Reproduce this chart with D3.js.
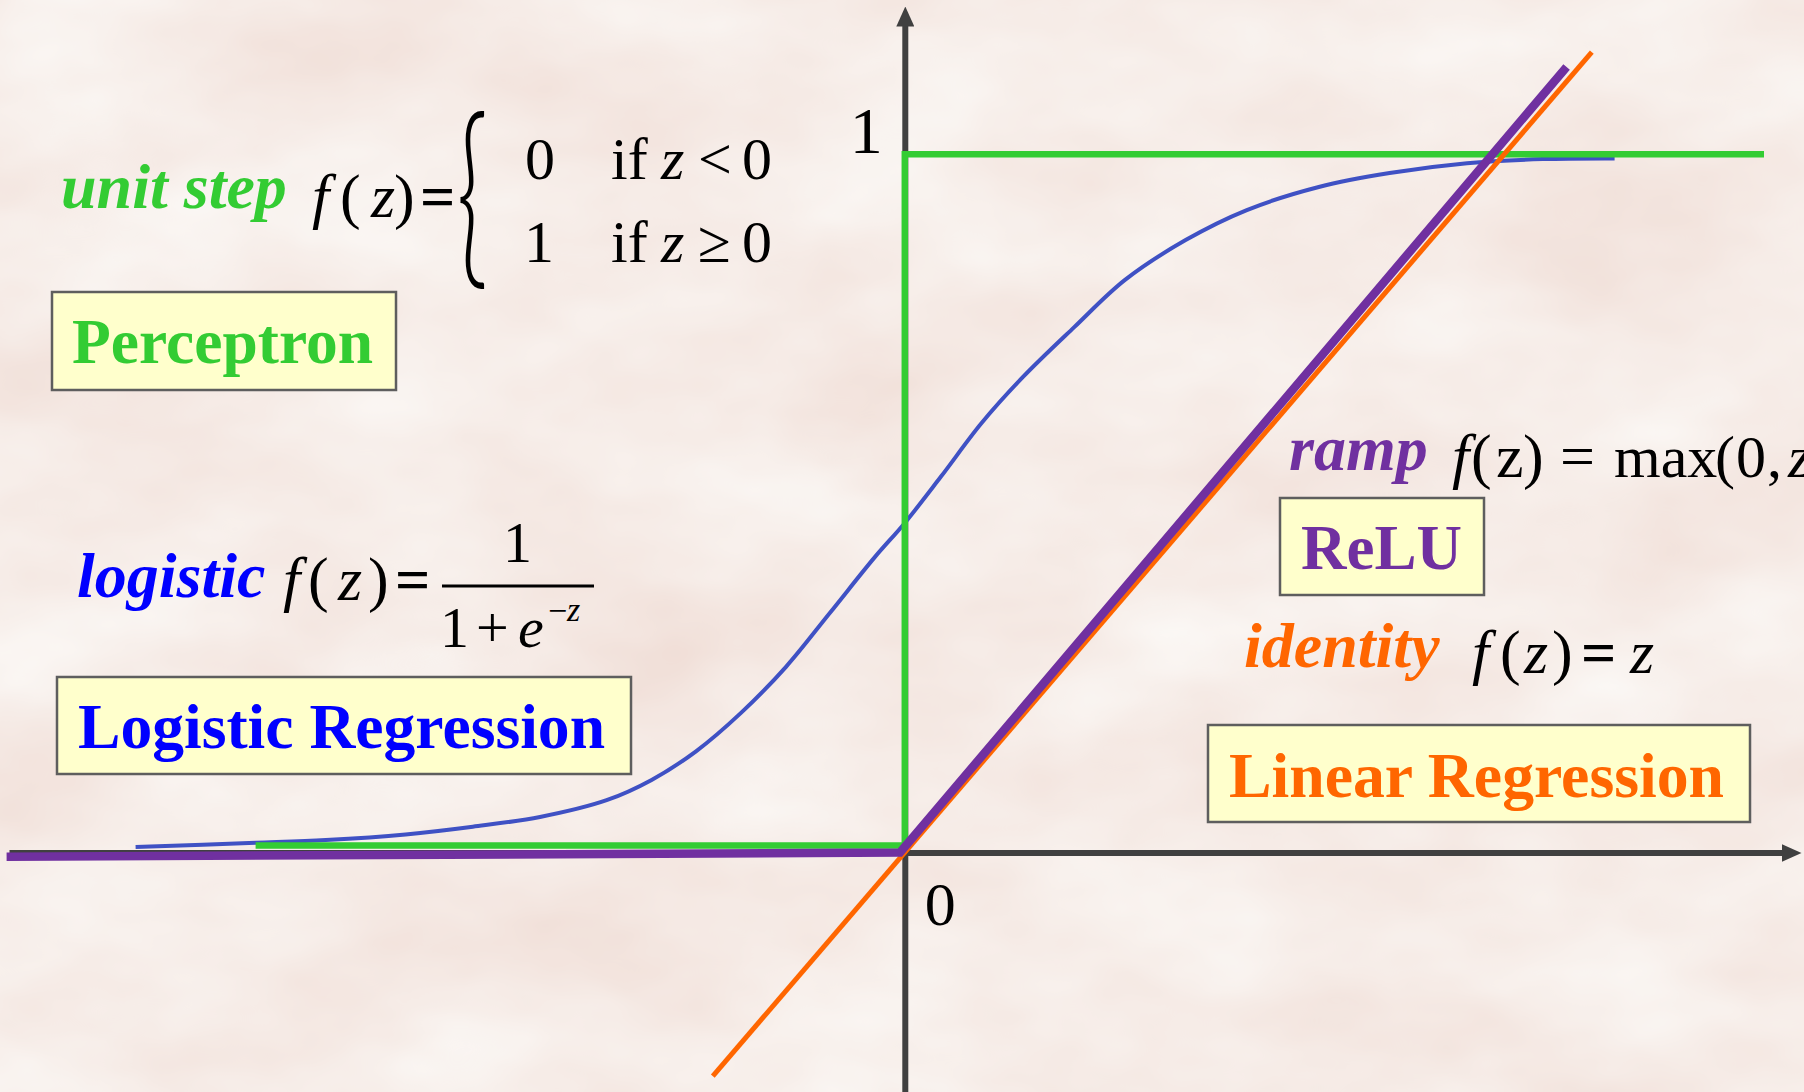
<!DOCTYPE html>
<html>
<head>
<meta charset="utf-8">
<script src="https://cdn.jsdelivr.net/npm/d3@7"></script>
<style>
  html, body { margin: 0; padding: 0; background: #f6ece7; overflow: hidden; }
  svg { display: block; }
  text { font-family: "Liberation Serif", "Times New Roman", serif; }
  text.brace { font-family: "Lato", "Inter", sans-serif; }
</style>
</head>
<body>
<div id="chart"></div>
<script>
// values, in (z, f(z)) units
const logisticZ = [-1.282, -1.082, -0.965, -0.832, -0.720, -0.608, -0.497, -0.422, -0.348, -0.273, -0.198, -0.125, -0.050, 0, 0.060, 0.128, 0.197, 0.282, 0.367, 0.468, 0.570, 0.690, 0.808, 0.937, 1.063, 1.183];
const logisticF = [0.008, 0.014, 0.018, 0.026, 0.037, 0.051, 0.075, 0.104, 0.145, 0.200, 0.266, 0.343, 0.423, 0.472, 0.538, 0.615, 0.681, 0.752, 0.820, 0.877, 0.920, 0.953, 0.973, 0.987, 0.993, 0.994];
const stepZ = [-1.082, 0, 0, 1.432];
const stepF = [0.01, 0.01, 1, 1];
const reluZ = [-1.497, -0.008, 1.103];
const reluF = [-0.006, 0, 1.125];
const identityZ = [-0.32, 1.145];
const identityF = [-0.32, 1.146];

const zRange = [-1.493, 1.462];
const fRange = [-0.345, 1.185];
const xTicks = [0];
const yTicks = [1];

const activations = ["unit step", "logistic", "ramp", "identity"];
const models = ["Perceptron", "Logistic Regression", "ReLU", "Linear Regression"];

const green = "#33cc33", blue = "#0000ff", purple = "#7030a0", orange = "#ff6600";
const curveBlue = "#3f51c4", axisColor = "#404040", boxFill = "#ffffcc", boxStroke = "#5e5e5e";

const W = 1804, H = 1092;

const svg = d3.select("#chart").append("svg")
    .attr("width", W)
    .attr("height", H);

const defs = svg.append("defs");

// mottled paper background
const paper = defs.append("filter")
    .attr("id", "paper")
    .attr("x", 0).attr("y", 0).attr("width", "100%").attr("height", "100%")
    .attr("color-interpolation-filters", "sRGB");
paper.append("feTurbulence")
    .attr("type", "fractalNoise")
    .attr("baseFrequency", "0.004 0.007")
    .attr("numOctaves", 4)
    .attr("seed", 11);
paper.append("feColorMatrix")
    .attr("type", "matrix")
    .attr("values", "0.05 0 0 0 0.94  0.12 0 0 0 0.866  0.14 0 0 0 0.837  0 0 0 0 1");

defs.append("marker")
    .attr("id", "arrow")
    .attr("viewBox", "0 0 20 18")
    .attr("markerUnits", "userSpaceOnUse")
    .attr("markerWidth", 20)
    .attr("markerHeight", 18)
    .attr("refX", 1)
    .attr("refY", 9)
    .attr("orient", "auto")
  .append("path")
    .attr("d", "M0,0L20,9L0,18Z")
    .attr("fill", axisColor);

svg.append("rect")
    .attr("width", W)
    .attr("height", H)
    .attr("filter", "url(#paper)");

const x = d3.scaleLinear().domain(zRange).range([9, 1782]);
const y = d3.scaleLinear().domain(fRange).range([1093.5, 25]);

// axes
const gx = svg.append("g")
    .attr("transform", `translate(0,${y(0)})`)
    .call(d3.axisBottom(x).tickValues(xTicks).tickSize(0).tickSizeOuter(0).tickFormat(d3.format("d")));
gx.select(".domain")
    .attr("stroke", axisColor)
    .attr("stroke-width", 6)
    .attr("marker-end", "url(#arrow)");
gx.selectAll(".tick text")
    .attr("fill", "#000")
    .attr("font-size", 62)
    .attr("x", 35)
    .attr("y", 28);

const gy = svg.append("g")
    .attr("transform", `translate(${x(0)},0)`)
    .call(d3.axisLeft(y).tickValues(yTicks).tickSize(0).tickSizeOuter(0).tickFormat(d3.format("d")));
gy.select(".domain")
    .attr("stroke", axisColor)
    .attr("stroke-width", 6)
    .attr("marker-end", "url(#arrow)");
gy.selectAll(".tick text")
    .attr("fill", "#000")
    .attr("font-size", 66)
    .attr("x", -22)
    .attr("dy", "-0.03em");

// curves
const line = d3.line().x(d => x(d[0])).y(d => y(d[1]));

svg.append("path")
    .datum(d3.zip(logisticZ, logisticF))
    .attr("fill", "none")
    .attr("stroke", curveBlue)
    .attr("stroke-width", 4)
    .attr("d", line.curve(d3.curveCatmullRom));

line.curve(d3.curveLinear);

svg.append("path")
    .datum(d3.zip(stepZ, stepF))
    .attr("fill", "none")
    .attr("stroke", green)
    .attr("stroke-width", 6.5)
    .attr("d", line);

svg.append("path")
    .datum(d3.zip(identityZ, identityF))
    .attr("fill", "none")
    .attr("stroke", orange)
    .attr("stroke-width", 5)
    .attr("d", line);

svg.append("path")
    .datum(d3.zip(reluZ, reluF))
    .attr("fill", "none")
    .attr("stroke", purple)
    .attr("stroke-width", 8.5)
    .attr("d", line);

// text helpers
function styled(sel, size, style, color) {
  return sel
      .attr("font-size", size)
      .attr("font-style", style && style.includes("i") ? "italic" : "normal")
      .attr("font-weight", style && style.includes("b") ? "bold" : "normal")
      .attr("fill", color || "#000");
}

function put(g, str, px, py, size, style, color) {
  return styled(g.append("text").attr("x", px).attr("y", py), size, style, color).text(str);
}

const labels = svg.append("g");

// activation names
const nameLayout = [[61, 208, green], [77, 597, blue], [1289, 470, purple], [1244, 667, orange]];
activations.forEach((a, i) => {
  const [px, py, c] = nameLayout[i];
  put(labels, a, px, py, 64, "bi", c);
});

// model boxes
const boxLayout = [
  {x: 52, y: 292, w: 344, h: 98, tx: 72, ty: 363, len: 301, c: green},
  {x: 57, y: 677, w: 574, h: 97, tx: 78, ty: 748, len: 527, c: blue},
  {x: 1280, y: 498, w: 204, h: 97, tx: 1301, ty: 569, len: 161, c: purple},
  {x: 1208, y: 725, w: 542, h: 97, tx: 1229, ty: 797, len: 495, c: orange}
];
models.forEach((m, i) => {
  const b = boxLayout[i];
  labels.append("rect")
      .attr("x", b.x).attr("y", b.y)
      .attr("width", b.w).attr("height", b.h)
      .attr("fill", boxFill)
      .attr("stroke", boxStroke)
      .attr("stroke-width", 2.5);
  put(labels, m, b.tx, b.ty, 63, "b", b.c)
      .attr("textLength", b.len)
      .attr("lengthAdjust", "spacingAndGlyphs");
});

// formulas
const formulaPieces = [
  // unit step
  ["f", 312, 217, 62, "i"], ["(", 340, 217, 62], ["z", 371, 217, 62, "i"], [")", 394, 217, 62], ["=", 420, 217, 62, "b"],
  ["0", 525, 179, 60], ["if", 611, 179, 60], ["z", 661, 179, 60, "i"], ["<", 698, 179, 60], ["0", 742, 179, 60],
  ["1", 524, 262, 60], ["if", 611, 262, 60], ["z", 661, 262, 60, "i"], ["\u2265", 698, 262, 60], ["0", 742, 262, 60],
  // logistic
  ["f", 283, 600, 62, "i"], ["(", 308, 600, 62], ["z", 338, 600, 62, "i"], [")", 368, 600, 62], ["=", 395, 600, 62, "b"],
  ["1", 503, 562, 58],
  ["1", 440, 647, 58], ["+", 476, 647, 58], ["e", 518, 647, 58, "i"], ["\u2212", 548, 622, 34], ["z", 567, 621, 34, "i"],
  // ramp
  ["f", 1452, 477, 62, "i"], ["(", 1471, 477, 62], ["z", 1496, 477, 62], [")", 1523, 477, 62], ["=", 1560, 477, 62],
  // identity
  ["f", 1472, 673, 62, "i"], ["(", 1500, 673, 62], ["z", 1524, 673, 62, "i"], [")", 1552, 673, 62], ["=", 1581, 673, 62, "b"],
  ["z", 1630, 673, 62, "i"]
];
formulaPieces.forEach(p => put(labels, p[0], p[1], p[2], p[3], p[4]));

// "max(0, z" runs off the right edge, as in the slide
const maxText = styled(labels.append("text").attr("y", 477), 60);
[["max", 1614], ["(", 1715], ["0", 1736], [",", 1767], ["z", 1788, "i"]].forEach(([s, px, st]) => {
  styled(maxText.append("tspan").attr("x", px), 60, st).text(s);
});

// brace of the piecewise step and the fraction bar of the logistic
labels.append("text")
    .attr("class", "brace")
    .attr("transform", "translate(456,263) scale(0.55,1)")
    .attr("font-size", 199)
    .attr("font-weight", 300)
    .attr("fill", "#000")
    .text("{");

labels.append("line")
    .attr("x1", 442).attr("x2", 594)
    .attr("y1", 586).attr("y2", 586)
    .attr("stroke", "#000")
    .attr("stroke-width", 3);
</script>
</body>
</html>
